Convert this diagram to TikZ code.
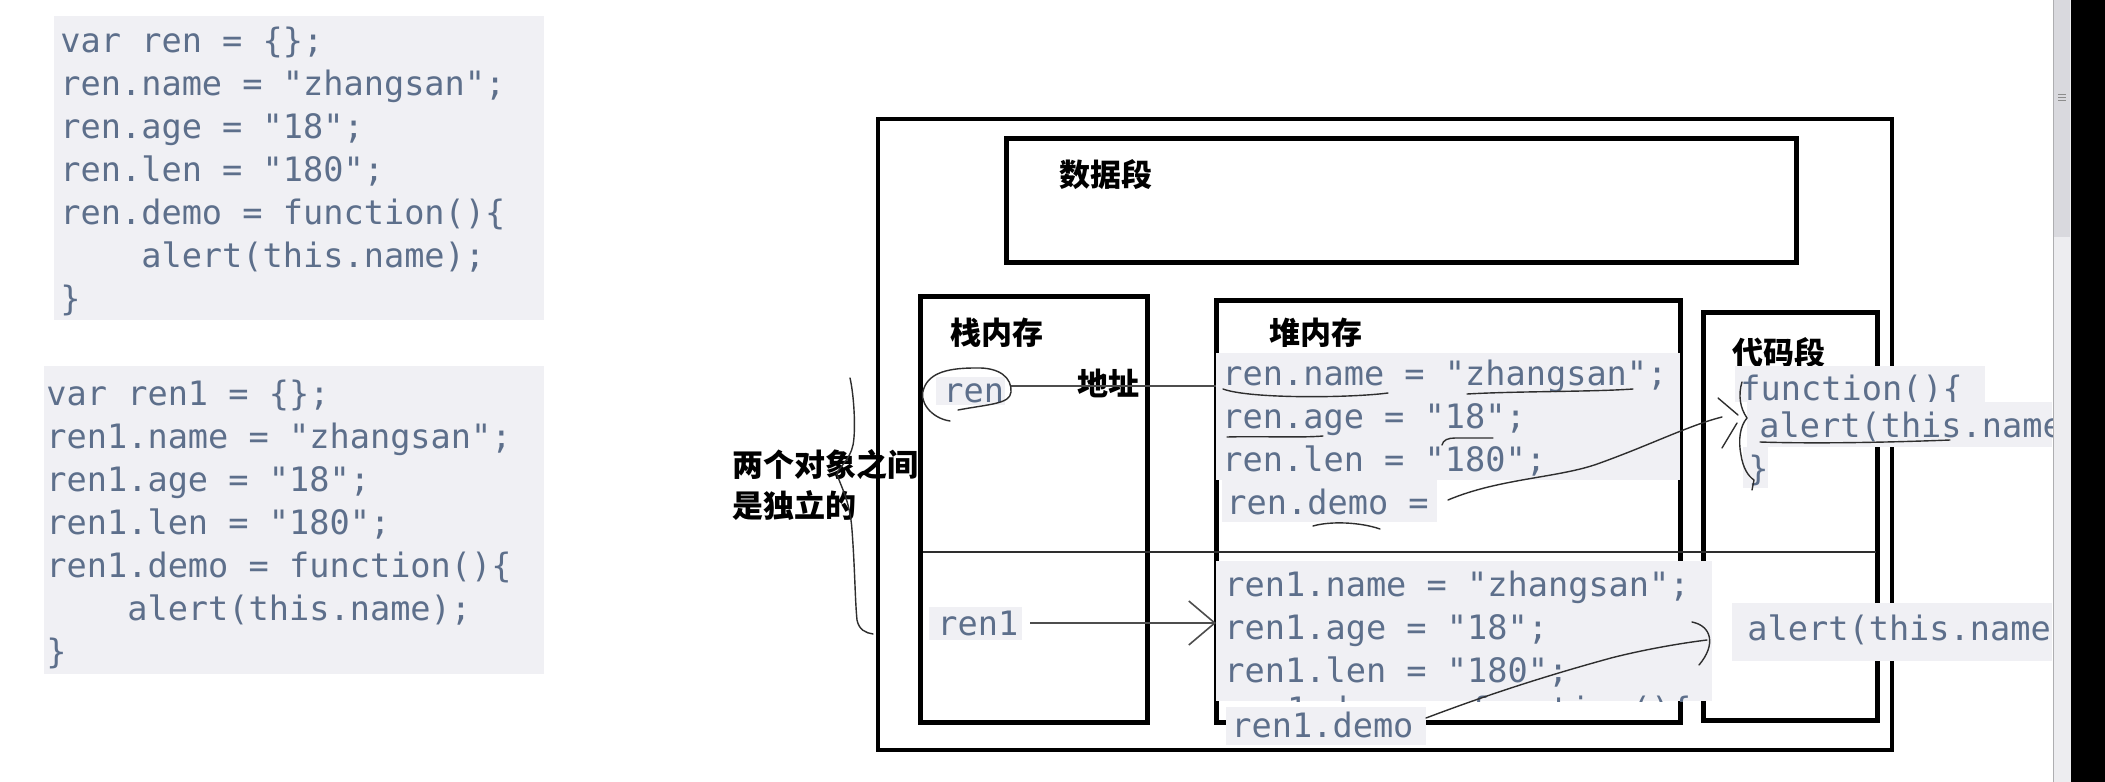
\documentclass[tikz,border=0pt]{standalone}
\usepackage{fontspec}
\usepackage{xcolor}
\usepackage{tikz}
\usetikzlibrary{arrows.meta}
\setmonofont{DejaVu Sans Mono}
\newfontfamily\cnfont{Noto Sans CJK SC}
\tikzset{codetxt/.style={anchor=west,inner sep=0pt,yshift=-3.5pt,text height=.75em,text depth=.25em,text=codeblue,font=\ttfamily\fontsize{16.8}{20}\selectfont},
cnlabel/.style={anchor=west,inner sep=0pt,font=\cnfont\bfseries\fontsize{15.5}{18}\selectfont},
memseg/.style={draw=black,line width=2.5pt},
pastebg/.style={fill=pastegray},
handpen/.style={draw=inkgray,line width=.7pt,line cap=round,line join=round},
addr/.style={draw=inkgray!85,line width=.8pt},
sepline/.style={draw=inkgray,line width=.6pt}}
\definecolor{codeblue}{HTML}{5D6F8B}
\definecolor{pastegray}{HTML}{F0F0F4}
\definecolor{inkgray}{HTML}{2E2E2E}
\definecolor{trackgray}{HTML}{EDEDF0}
\definecolor{thumbgray}{HTML}{D9D9DE}
\begin{document}
\begin{tikzpicture}[x=.5pt,y=-.5pt]
\fill[white] (0,0) rectangle (2105,782);
\useasboundingbox (0,0) rectangle (2105,782);
\fill[pastebg] (54,16) rectangle (544,320);
\foreach \i/\txt in {0/{var ren = \{\};},1/{ren.name = "zhangsan";},2/{ren.age = "18";},3/{ren.len = "180";},4/{ren.demo = function()\{},5/{\phantom{xxxx}alert(this.name);},6/{\}}}
\node[codetxt] (jsA\i) at (60,40+43*\i) {\txt};
\fill[pastebg] (44,366) rectangle (544,674);
\foreach \i/\txt in {0/{var ren1 = \{\};},1/{ren1.name = "zhangsan";},2/{ren1.age = "18";},3/{ren1.len = "180";},4/{ren1.demo = function()\{},5/{\phantom{xxxx}alert(this.name);},6/{\}}}
\node[codetxt] (jsB\i) at (46,393+43*\i) {\txt};
\draw[memseg,line width=2pt] (878,119) rectangle (1892,750);
\draw[memseg] (1006,138) rectangle (1796,262);
\draw[memseg] (920,296) rectangle (1147,722);
\draw[memseg] (1216,300) rectangle (1680,722);
\draw[memseg] (1703,312) rectangle (1877,720);
\draw[sepline] (923,552) -- (1876,552);
\node[cnlabel] (dataseg) at (1059,175) {数据段};
\node[cnlabel] (stacklbl) at (950,333) {栈内存};
\node[cnlabel] (heaplbl) at (1269,333) {堆内存};
\node[cnlabel] (codelbl) at (1732,353) {代码段};
\node[cnlabel] (indepA) at (732,465) {两个对象之间};
\node[cnlabel] (indepB) at (732,506) {是独立的};
\fill[pastebg] (936,377) rectangle (1005,405);
\node[codetxt] (ren) at (943,390) {ren};
\fill[pastebg] (929,607) rectangle (1022,640);
\node[codetxt] (ren1) at (937,623) {ren1};
\fill[pastebg] (1216,353) rectangle (1680,480);
\fill[pastebg] (1222,480) rectangle (1437,522);
\foreach \i/\nm/\txt in {0/renname/{ren.name = "zhangsan";},1/renage/{ren.age = "18";},2/renlen/{ren.len = "180";}}
\node[codetxt] (\nm) at (1222,373+43*\i) {\txt};
\node[codetxt] (rendemo) at (1226,502) {ren.demo =};
\fill[pastebg] (1216,561) rectangle (1712,701);
\begin{scope}
\clip (1216,561) rectangle (1712,701);
\foreach \i/\nm/\txt in {0/ren1name/{ren1.name = "zhangsan";},1/ren1age/{ren1.age = "18";},2/ren1len/{ren1.len = "180";}}
\node[codetxt] (\nm) at (1224,584+43*\i) {\txt};
\node[codetxt] (ren1cut) at (1226,709) {ren1.demo = function()\{};
\end{scope}
\fill[pastebg] (1226,707) rectangle (1426,745);
\node[codetxt] (ren1demo) at (1231,725) {ren1.demo};
\fill[pastebg] (1735,366) rectangle (1985,402);
\node[codetxt] (fnhead) at (1740,388) {function()\{};
\fill[pastebg] (1747,402) rectangle (2052,447);
\begin{scope}
\clip (1747,402) rectangle (2052,447);
\node[codetxt] (fnbody) at (1759,425) {alert(this.name};
\end{scope}
\fill[pastebg] (1743,447) rectangle (1768,488);
\node[codetxt] (fnend) at (1748,468) {\}};
\fill[pastebg] (1732,603) rectangle (2052,661);
\node[codetxt] (fnbodyB) at (1747,628) {alert(this.name};
\node[cnlabel] (addrlbl) at (1077,383) {地址};
\coordinate (renhook) at (1011,386);
\coordinate (heapin) at (1216,386);
\draw[addr] (renhook) -- (heapin);
\coordinate (ren1tail) at (1030,623);
\coordinate (heapinB) at (1216,623);
\draw[addr,-{Straight Barb[length=13pt,width=22pt]}] (ren1tail) -- (heapinB);
\draw[handpen] (950,421) .. controls (930,418) and (918,400) .. (924,388) .. controls (930,372) and (950,368) .. (975,368) .. controls (1000,367) and (1012,378) .. (1011,392) .. controls (1010,404) and (990,404) .. (958,410);
\draw[handpen] (850,378) .. controls (854,395) and (856,430) .. (853,445) .. controls (850,460) and (838,468) .. (837,474) .. controls (840,485) and (850,500) .. (852,530) .. controls (855,570) and (855,600) .. (857,620) .. controls (859,630) and (866,633) .. (873,634);
\coordinate (demohook) at (1448,500);
\coordinate (fnhook) at (1722,417);
\draw[handpen] (demohook) .. controls (1500,478) and (1560,478) .. (1600,463) .. controls (1650,445) and (1690,425) .. (fnhook);
\draw[handpen] (1718,398) -- (1738,415);
\draw[handpen] (1722,448) -- (1737,423);
\draw[handpen] (1742,382) .. controls (1738,395) and (1740,408) .. (1747,418) .. controls (1740,426) and (1738,440) .. (1741,455) .. controls (1743,468) and (1748,476) .. (1754,480) -- (1752,490);
\coordinate (ren1hook) at (1426,718);
\coordinate (fnhookB) at (1707,640);
\draw[handpen] (ren1hook) .. controls (1500,690) and (1560,672) .. (1611,658) .. controls (1650,648) and (1690,642) .. (fnhookB);
\draw[handpen] (1692,622) .. controls (1712,626) and (1716,645) .. (1699,665);
\draw[handpen] (1223,389) .. controls (1250,399) and (1350,398) .. (1388,393);
\draw[handpen] (1467,394) .. controls (1520,391) and (1590,392) .. (1633,389);
\draw[handpen] (1227,437) .. controls (1260,436) and (1300,438) .. (1323,436);
\draw[handpen] (1442,445) .. controls (1443,440) and (1448,438) .. (1455,438) -- (1493,438);
\draw[handpen] (1313,526) .. controls (1330,521) and (1360,522) .. (1380,529);
\draw[handpen] (1760,442) .. controls (1820,444) and (1900,442) .. (1950,440);
\fill[trackgray] (2053,0) rectangle (2071,782);
\draw[thumbgray!80!black,line width=.4pt] (2053,0) -- (2053,782);
\fill[thumbgray] (2054,0) rectangle (2070,237);
\foreach \g in {94,97,100}
\draw[black!45,line width=.4pt] (2058,\g) -- (2066,\g);
\fill[black] (2071,0) rectangle (2105,782);
\end{tikzpicture}
\end{document}
